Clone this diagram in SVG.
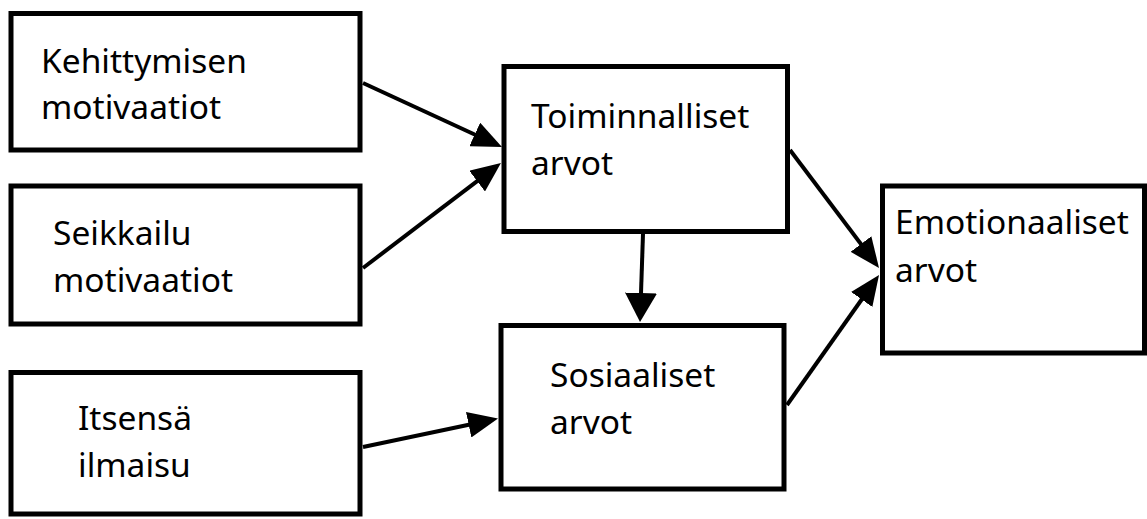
<svg xmlns="http://www.w3.org/2000/svg" width="1147" height="519" viewBox="0 0 1147 519">
<style>
.box{fill:#fff;stroke:#000;stroke-width:5}
.lbl{font-family:"Noto Sans","Open Sans","DejaVu Sans",sans-serif;font-size:33.5px;fill:#000}
.conn line{stroke:#000;stroke-width:4;marker-end:url(#ah)}
.conn line.big{marker-end:url(#ahb)}
</style>
<defs>
<marker id="ah" markerUnits="userSpaceOnUse" markerWidth="30" markerHeight="26" refX="22" refY="13" orient="auto">
<path d="M0,0 L30,13 L0,26 z" fill="#000"/>
</marker>
<marker id="ahb" markerUnits="userSpaceOnUse" markerWidth="29" markerHeight="32" refX="21" refY="16" orient="auto">
<path d="M0,0 L29,16 L0,32 z" fill="#000"/>
</marker>
</defs>
<rect width="1147" height="519" fill="#fff"/>
<g id="n1"><rect class="box" x="11" y="13.5" width="349" height="136.5"/><text class="lbl" x="41" y="73.3">Kehittymisen</text><text class="lbl" x="41" y="119.3">motivaatiot</text></g>
<g id="n2"><rect class="box" x="11" y="186" width="349" height="138"/><text class="lbl" x="53" y="245">Seikkailu</text><text class="lbl" x="53" y="291.7">motivaatiot</text></g>
<g id="n3"><rect class="box" x="11" y="372.5" width="349" height="141.5"/><text class="lbl" x="78" y="430">Itsensä</text><text class="lbl" x="78" y="476.7">ilmaisu</text></g>
<g id="n4"><rect class="box" x="504" y="66.5" width="283.5" height="165"/><text class="lbl" x="531" y="128">Toiminnalliset</text><text class="lbl" x="531" y="175">arvot</text></g>
<g id="n5"><rect class="box" x="501" y="325.5" width="283" height="163.5"/><text class="lbl" x="550" y="386.7">Sosiaaliset</text><text class="lbl" x="550" y="434">arvot</text></g>
<g id="n6"><rect class="box" x="882.5" y="186" width="262" height="167"/><text class="lbl" x="895" y="234">Emotionaaliset</text><text class="lbl" x="895" y="281.7">arvot</text></g>
<g id="connectors" class="conn">
<line x1="363" y1="83" x2="494.7" y2="143.7"/>
<line x1="363" y1="268" x2="494.6" y2="167.8"/>
<line x1="363" y1="447" x2="490.2" y2="420.2"/>
<line class="big" x1="643" y1="234" x2="640.3" y2="314"/>
<line x1="790" y1="150" x2="874.2" y2="261.6"/>
<line x1="787" y1="405" x2="874.4" y2="281.5"/>
</g>
</svg>
